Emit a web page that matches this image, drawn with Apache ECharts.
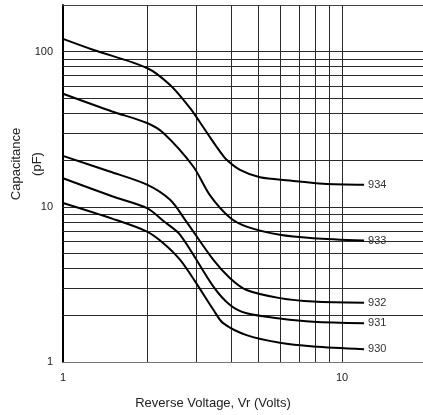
<!DOCTYPE html>
<html>
<head>
<meta charset="utf-8">
<script src="https://cdn.jsdelivr.net/npm/echarts@6/dist/echarts.min.js"></script>
<style>
  html, body { margin: 0; padding: 0; background: #fff; }
  #chart { width: 423px; height: 415px; }
</style>
</head>
<body>
<div id="chart"></div>
<script>
// Tick labels and grid positions (log-log paper)
const xTickLabels = [1, 10];
const yTickLabels = [1, 10, 100];
const xGridValues = [2, 3, 4, 5, 6, 7, 8, 9, 10];
const yGridValues = [2, 3, 4, 5, 6, 7, 8, 9, 10, 20, 30, 40, 50, 60, 70, 80, 90, 100];

// Capacitance vs reverse voltage, one pair of arrays per diode
const volts934 = [1, 1.28, 2, 2.42, 2.85, 3.1, 3.36, 3.65, 3.86, 4.31, 5.08, 6.5, 8.56, 12];
const cap934   = [121, 103, 78.5, 61, 43.5, 35, 28.2, 22.8, 20.1, 17.3, 15.5, 14.8, 14.1, 13.9];

const volts933 = [1, 1.5, 2, 2.29, 2.93, 3.36, 3.97, 4.55, 5.99, 7.88, 12];
const cap933   = [53.6, 41.2, 34.7, 29.9, 18.2, 11.9, 8.5, 7.46, 6.6, 6.28, 6.06];

const volts932 = [1, 1.47, 2, 2.42, 2.74, 3.46, 3.97, 4.55, 5.99, 7.89, 12];
const cap932   = [21.3, 16.9, 13.9, 11.1, 8.25, 4.55, 3.47, 2.91, 2.58, 2.45, 2.41];

const volts931 = [1, 1.5, 2, 2.29, 2.63, 3.46, 3.97, 4.55, 5.99, 7.89, 12];
const cap931   = [15.3, 11.7, 9.8, 8.1, 6.6, 3.06, 2.33, 2.06, 1.91, 1.82, 1.78];

const volts930 = [1, 1.5, 2, 2.29, 2.63, 3.01, 3.46, 3.75, 4.55, 5.99, 7.89, 12];
const cap930   = [10.6, 8.4, 6.93, 5.83, 4.55, 3.2, 2.17, 1.78, 1.49, 1.33, 1.26, 1.21];

const curves = [
  { name: '934', x: volts934, y: cap934 },
  { name: '933', x: volts933, y: cap933 },
  { name: '932', x: volts932, y: cap932 },
  { name: '931', x: volts931, y: cap931 },
  { name: '930', x: volts930, y: cap930 }
];

const FONT = '"Liberation Sans", Arial, sans-serif';
const chart = echarts.init(document.getElementById('chart'));

const gridLineStyle = { color: '#2a2a2a', width: 1, type: 'solid' };

const curveSeries = curves.map(c => ({
  name: c.name,
  type: 'line',
  data: c.x.map((v, i) => [v, c.y[i]]),
  showSymbol: false,
  smooth: 0.3,
  lineStyle: { color: '#000', width: 2 },
  endLabel: {
    show: true,
    formatter: '{a}',
    distance: 4,
    color: '#333',
    fontFamily: FONT,
    fontSize: 11
  },
  z: 5
}));

// Log-paper rulings drawn through the axes' own scales
const rulingSeries = {
  type: 'line',
  data: [],
  silent: true,
  z: 1,
  markLine: {
    silent: true,
    symbol: ['none', 'none'],
    label: { show: false },
    lineStyle: gridLineStyle,
    animation: false,
    data: xGridValues.map(v => ({ xAxis: v }))
      .concat(yGridValues.map(v => ({ yAxis: v })))
  }
};

const xMax = Math.pow(10, 360 / 279);

chart.setOption({
  animation: false,
  backgroundColor: '#fff',
  grid: { left: 63, right: 0, top: 5, bottom: 53, containLabel: false },
  xAxis: [
    {
      type: 'log',
      logBase: 10,
      min: 1,
      max: xMax,
      axisLine: { show: true, lineStyle: { color: '#777', width: 1 } },
      axisTick: { show: false },
      splitLine: { show: false },
      minorTick: { show: false },
      axisLabel: {
        margin: 10,
        color: '#222',
        fontFamily: FONT,
        fontSize: 11,
        showMaxLabel: false,
        formatter: v => (xTickLabels.some(t => Math.abs(t - v) < 1e-6) ? String(v) : '')
      }
    },
    {
      // top edge of the paper
      type: 'log',
      position: 'top',
      min: 1,
      max: xMax,
      axisLine: { show: true, lineStyle: { color: '#444', width: 1 } },
      axisTick: { show: false },
      axisLabel: { show: false },
      splitLine: { show: false }
    }
  ],
  yAxis: {
    type: 'log',
    logBase: 10,
    min: 1,
    max: 200,
    axisLine: { show: true, onZero: false, lineStyle: { color: '#000', width: 2 } },
    axisTick: { show: false },
    splitLine: { show: false },
    minorTick: { show: false },
    axisLabel: {
      margin: 10,
      color: '#222',
      fontFamily: FONT,
      fontSize: 11,
      showMaxLabel: false,
      formatter: v => (yTickLabels.some(t => Math.abs(t - v) < 1e-6) ? String(v) : '')
    }
  },
  graphic: [
    {
      type: 'text',
      x: 27,
      y: 164,
      rotation: Math.PI / 2,
      style: {
        text: 'Capacitance\n(pF)',
        fill: '#222',
        font: '13px ' + FONT,
        align: 'center',
        verticalAlign: 'middle',
        lineHeight: 21
      }
    },
    {
      type: 'text',
      x: 213,
      y: 403,
      style: {
        text: 'Reverse Voltage, Vr (Volts)',
        fill: '#222',
        font: '13px ' + FONT,
        align: 'center',
        verticalAlign: 'middle'
      }
    }
  ],
  series: [rulingSeries].concat(curveSeries)
});
</script>
</body>
</html>
